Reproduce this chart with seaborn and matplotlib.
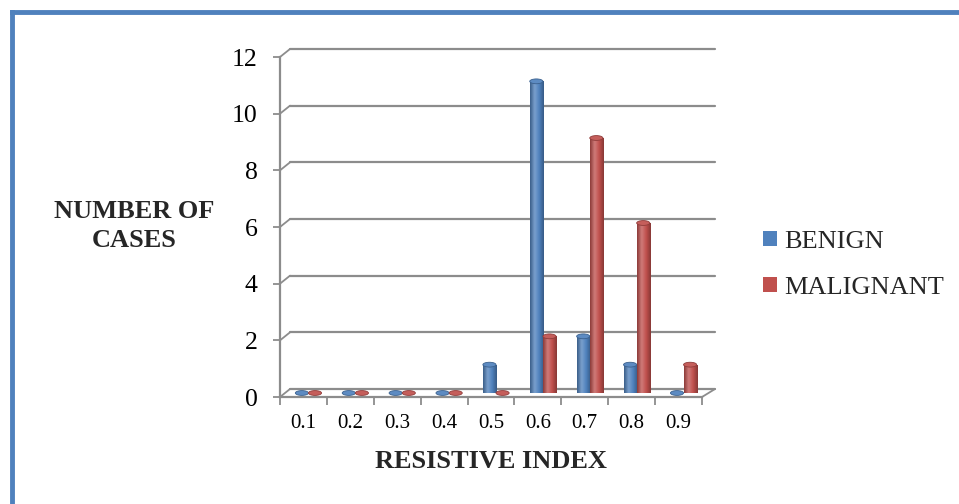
import numpy as np
import pandas as pd
import matplotlib
matplotlib.use('Agg')
import matplotlib.pyplot as plt
import matplotlib.transforms as mtransforms
from matplotlib.colors import LinearSegmentedColormap, to_rgb
from matplotlib.patches import Ellipse, Patch
from matplotlib.lines import Line2D
import seaborn as sns

# data
resistive_index = ['0.1', '0.2', '0.3', '0.4', '0.5', '0.6', '0.7', '0.8', '0.9']
benign = [0, 0, 0, 0, 1, 11, 2, 1, 0]
malignant = [0, 0, 0, 0, 0, 2, 9, 6, 1]
series = ['BENIGN', 'MALIGNANT']
colors = {'BENIGN': '#4F81BD', 'MALIGNANT': '#C0504D'}

df = pd.DataFrame({
    'ri': resistive_index * 2,
    'cases': benign + malignant,
    'type': [series[0]] * len(benign) + [series[1]] * len(malignant),
})

sns.set_theme(style='white')
plt.rcParams['font.family'] = ['Liberation Serif', 'DejaVu Serif']

W, H = 959, 504
fig = plt.figure(figsize=(W / 100, H / 100), dpi=100)
ax = fig.add_axes([280 / W, 1 - 397 / H, 422 / W, 340 / H])
ax.set_facecolor('none')

sns.barplot(data=df, x='ri', y='cases', hue='type', palette=colors,
            width=0.56, saturation=1, legend=False, ax=ax, zorder=3)

gray = '#8C8C8C'
ymax = 12
px_per_unit = 340 / ymax
dxa = 10 / 422           # depth offset, axes fraction
dyd = 8 / px_per_unit    # depth offset, data units

# bars sit half way into the depth of the 3d box
shift = ax.transData + mtransforms.ScaledTranslation(0.05, 0.04, fig.dpi_scale_trans)


def shade(c, f):
    r = np.array(to_rgb(c))
    return tuple(np.clip(r * f, 0, 1)) if f < 1 else tuple(r + (1 - r) * (f - 1))


for p in ax.patches:
    base = p.get_facecolor()[:3]
    p.set_transform(shift)
    p.set_edgecolor('none')
    x0, w, h = p.get_x(), p.get_width(), p.get_height()
    if h > 0:
        cm = LinearSegmentedColormap.from_list(
            'cyl', [shade(base, 0.72), shade(base, 1.25), base, shade(base, 0.7)])
        im = ax.imshow(np.linspace(0, 1, 64)[None, :], cmap=cm, aspect='auto',
                       extent=[x0, x0 + w, 0, h], interpolation='bicubic',
                       zorder=3.1)
        im.set_transform(shift)
        im.set_clip_path(p)
    cap = Ellipse((x0 + w / 2, h), w, 0.17, facecolor=shade(base, 1.08),
                  edgecolor=shade(base, 0.75), lw=0.6, transform=shift,
                  zorder=3.2, clip_on=False)
    ax.add_patch(cap)

# back wall gridlines with the little 3d connectors
yt = ax.get_yaxis_transform()
for v in range(0, ymax + 1, 2):
    ax.plot([dxa, 1 + dxa * 1.3], [v + dyd] * 2, transform=yt, color=gray,
            lw=1.6, clip_on=False, zorder=1)
    ax.plot([0, dxa], [v, v + dyd], transform=yt, color=gray,
            lw=1.3, clip_on=False, zorder=1)
ax.plot([1, 1 + dxa * 1.3], [0, dyd], transform=yt, color=gray,
        lw=1.3, clip_on=False, zorder=1)

ax.set_ylim(0, ymax)
ax.set_xlim(-0.5, len(resistive_index) - 0.5)
ax.set_yticks(range(0, ymax + 1, 2))
ax.set_xticks(np.arange(-0.5, len(resistive_index), 1), minor=True)
ax.tick_params(axis='y', left=True, length=5, width=1.3, color=gray,
               pad=11, labelsize=18.5, labelcolor='black')
ax.tick_params(axis='x', which='major', bottom=True, length=0, pad=12,
               labelsize=15, labelcolor='black')
ax.tick_params(axis='x', which='minor', bottom=True, length=6, width=1.3,
               color=gray)
for s in ['top', 'right']:
    ax.spines[s].set_visible(False)
for s in ['left', 'bottom']:
    ax.spines[s].set_color(gray)
    ax.spines[s].set_linewidth(1.6)
ax.set_xlabel('')
ax.set_ylabel('')

fig.text(134 / W, 1 - 226 / H, 'NUMBER OF\nCASES', ha='center', va='center',
         fontsize=19, fontweight='bold', multialignment='center', linespacing=1.3)
fig.text(491 / W, 1 - 462 / H, 'RESISTIVE INDEX', ha='center', va='center',
         fontsize=19, fontweight='bold')

handles = [Patch(facecolor=colors[s], edgecolor='none') for s in series]
fig.legend(handles, series, loc='center left', bbox_to_anchor=(745 / W, 1 - 265 / H),
           frameon=False, fontsize=19, handlelength=0.5, handleheight=0.5,
           handletextpad=0.3, labelspacing=0.9, borderpad=0.2)

# blue page frame
frame = '#4F81BD'
fig.add_artist(Line2D([11.5 / W, 11.5 / W], [0, 1 - 11.5 / H], transform=fig.transFigure,
                      color=frame, lw=3.5, solid_capstyle='projecting'))
fig.add_artist(Line2D([11.5 / W, 1], [1 - 11.5 / H, 1 - 11.5 / H], transform=fig.transFigure,
                      color=frame, lw=3.5, solid_capstyle='projecting'))

fig.savefig('out.png', dpi=100)
